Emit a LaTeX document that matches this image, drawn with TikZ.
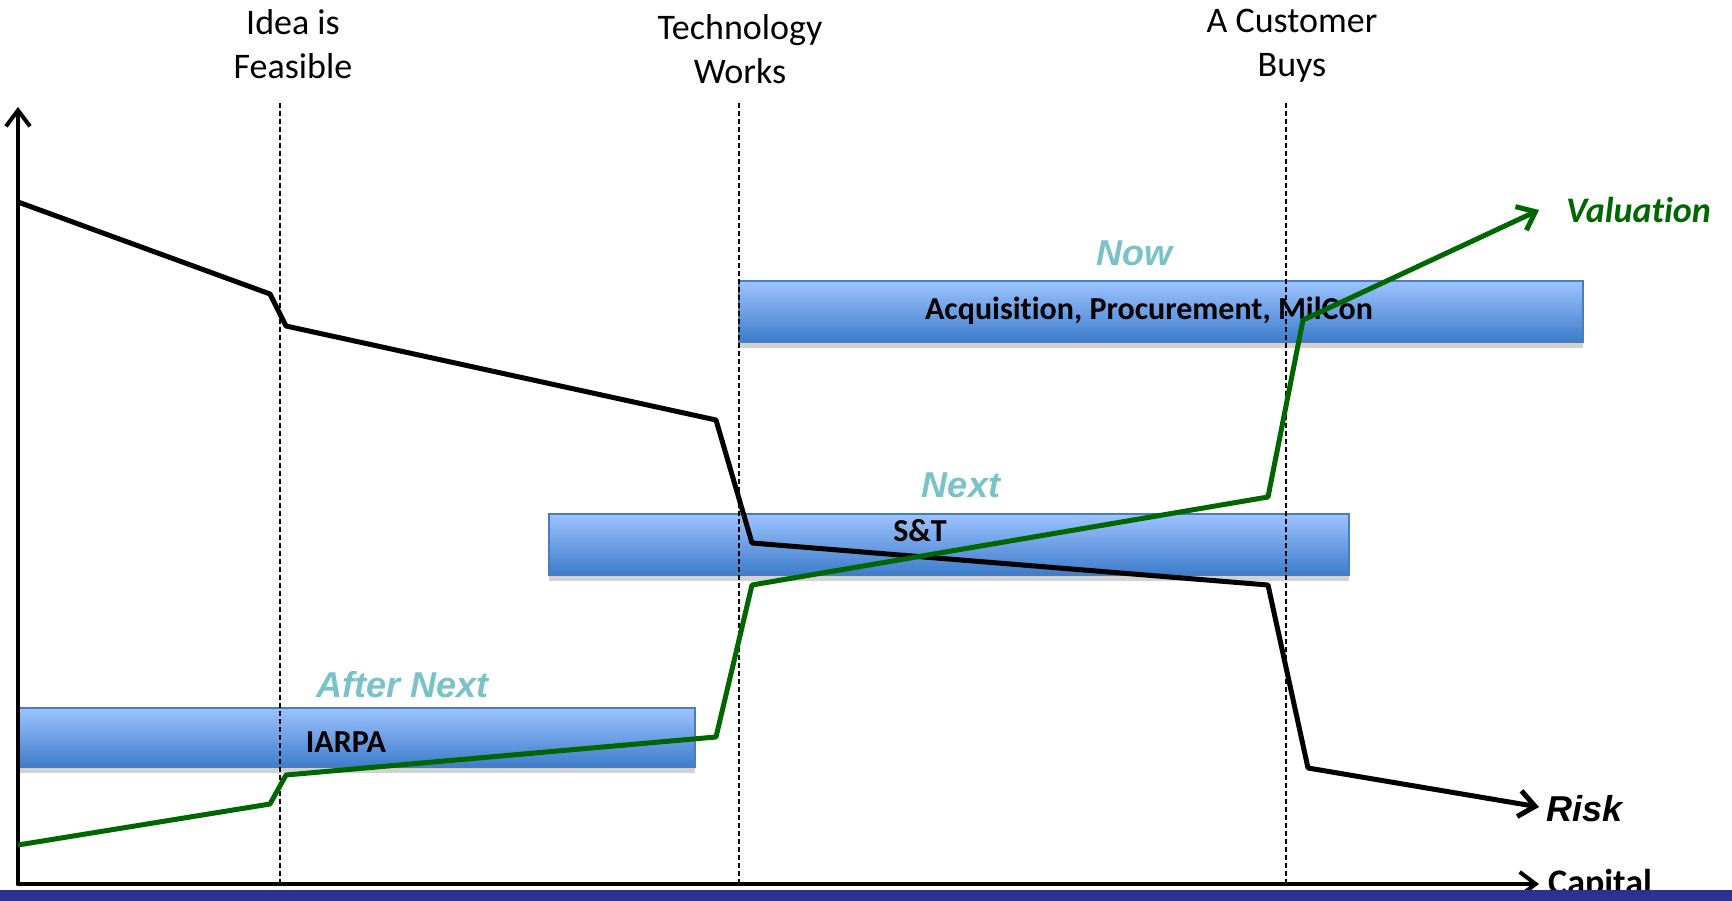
\documentclass[tikz,border=0pt]{standalone}
\usepackage{fontspec}
\setmainfont[RawFeature=-liga]{Carlito}
\newfontfamily\arialfont{Liberation Sans}
\usetikzlibrary{arrows.meta}

\definecolor{bartop}{HTML}{9DC3FF}
\definecolor{barbottom}{HTML}{3D7CCB}
\definecolor{barline}{HTML}{4A7EBB}
\definecolor{barshadow}{HTML}{D2D2D2}
\definecolor{phasecyan}{HTML}{78C2C8}
\definecolor{valgreen}{HTML}{006600}
\definecolor{bandblue}{HTML}{2E3192}

\tikzset{
  bar/.style={draw=barline, line width=1.5pt, top color=bartop, bottom color=barbottom},
  barshade/.style={fill=barshadow},
  milestone/.style={align=center, inner sep=0pt, anchor=north, font=\fontsize{36}{44}\selectfont},
  phase/.style={text=phasecyan, font=\arialfont\bfseries\itshape\fontsize{36}{40}\selectfont},
  barlabel/.style={font=\bfseries\fontsize{32}{36}\selectfont},
  gate/.style={line width=1.3pt, dash pattern=on 5pt off 3pt},
  axis/.style={line width=4pt, line cap=round, -{Straight Barb[length=16pt,width=24pt]}},
  curve/.style={line width=5pt, line join=round},
  tip/.style={-{Straight Barb[length=16pt,width=26pt]}}
}

\begin{document}
\begin{tikzpicture}[x=1pt,y=-1pt]
\useasboundingbox (0,0) rectangle (1732,901);

% phase bars
\fill[barshade] (739,342) rectangle (1583,348);
\path[bar] (739,281) rectangle (1583,342);
\fill[barshade] (549,575) rectangle (1349,581);
\path[bar] (549,514) rectangle (1349,575);
\fill[barshade] (19,767) rectangle (695,773);
\path[bar] (19,708) rectangle (695,767);

\node[barlabel] (acq) at (1149,311) {Acquisition, Procurement, MilCon};
\node[barlabel] (st) at (920,531) {S\&T};
\node[barlabel] (iarpa) at (346,742) {IARPA};

\node[phase] (now) at (1134,253) {Now};
\node[phase] (next) at (961,485) {Next};
\node[phase] (afternext) at (403,685) {After Next};

% milestones
\node[milestone] (feasible) at (293,9) {Idea is\\Feasible};
\node[milestone] (works) at (740,14) {Technology\\Works};
\node[milestone] (buys) at (1292,9) {A Customer\\Buys};

\draw[gate] (280,103) -- (280,884);
\draw[gate] (739,103) -- (739,884);
\draw[gate] (1286,103) -- (1286,884);

% axes
\coordinate (o) at (18,884);
\coordinate (ytop) at (18,107);
\coordinate (xend) at (1539,884);
\draw[axis] (o) -- (ytop);
\draw[axis] (o) -- (xend);
\node[anchor=base west, inner sep=0pt, font=\bfseries\fontsize{36}{40}\selectfont] (capital) at (1548,894) {Capital};

% risk
\coordinate (r0) at (18,202);
\coordinate (r1) at (270,294);
\coordinate (r2) at (286,326);
\coordinate (r3) at (716,420);
\coordinate (r4) at (752,543);
\coordinate (r5) at (1268,585);
\coordinate (r6) at (1308,768);
\coordinate (r7) at (1539,807);
\draw[curve, tip] (r0) -- (r1) -- (r2) -- (r3) -- (r4) -- (r5) -- (r6) -- (r7);
\node[anchor=west, inner sep=0pt, font=\arialfont\bfseries\itshape\fontsize{36}{40}\selectfont] (risk) at (1546,809) {Risk};

% valuation
\coordinate (v0) at (18,845);
\coordinate (v1) at (270,804);
\coordinate (v2) at (286,775);
\coordinate (v3) at (716,737);
\coordinate (v4) at (752,585);
\coordinate (v5) at (1268,497);
\coordinate (v6) at (1303,320);
\coordinate (v7) at (1539,210);
\draw[curve, valgreen, tip] (v0) -- (v1) -- (v2) -- (v3) -- (v4) -- (v5) -- (v6) -- (v7);
\node[anchor=west, inner sep=0pt, text=valgreen, font=\bfseries\itshape\fontsize{36}{40}\selectfont] (valuation) at (1566,210) {Valuation};

\fill[bandblue] (0,890) rectangle (1732,901);
\end{tikzpicture}
\end{document}
